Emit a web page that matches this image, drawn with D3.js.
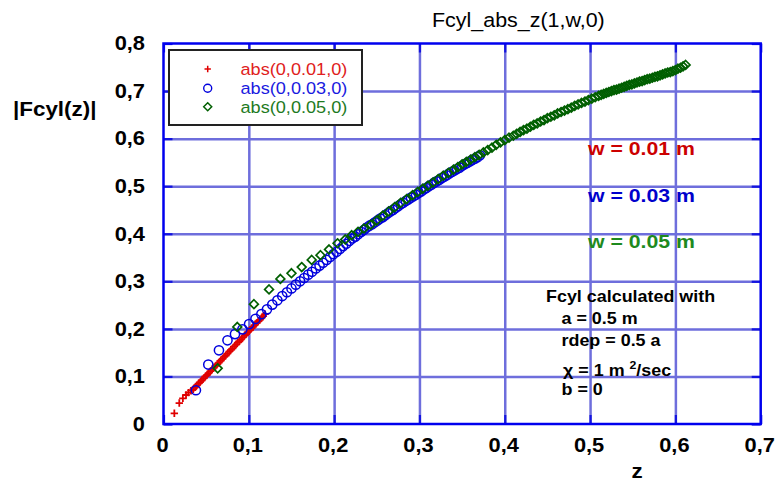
<!DOCTYPE html>
<html><head><meta charset="utf-8">
<script src="https://cdn.jsdelivr.net/npm/d3@7"></script>
<style>html,body{margin:0;padding:0;background:#fff;} svg{display:block;}</style>
</head><body><svg id="c" width="775" height="485"></svg>
<script>
// ---------- data ----------
const xTicks = [0, 0.1, 0.2, 0.3, 0.4, 0.5, 0.6, 0.7];
const xTickLabels = ["0", "0,1", "0,2", "0,3", "0,4", "0,5", "0,6", "0,7"];
const yTicks = [0, 0.1, 0.2, 0.3, 0.4, 0.5, 0.6, 0.7, 0.8];
const yTickLabels = ["0", "0,1", "0,2", "0,3", "0,4", "0,5", "0,6", "0,7", "0,8"];
const seriesNames = ["abs(0,0.01,0)", "abs(0,0.03,0)", "abs(0,0.05,0)"];
const wLabels = ["w = 0.01 m", "w = 0.03 m", "w = 0.05 m"];

// w = 0.01
const redZ = [0.0127,0.0185,0.0227,0.0264,0.0293,0.0322,0.0348,0.037,0.039,0.041,0.043,0.045,0.047,0.049,0.051,0.053,0.055,0.057,0.059,0.061,0.063,0.065,0.067,0.069,0.071,0.073,0.075,0.077,0.079,0.081,0.083,0.085,0.087,0.089,0.091,0.093,0.095,0.097,0.099,0.101,0.103,0.105,0.107,0.109,0.111,0.113,0.115,0.117,0.119];
const redY = [0.0225,0.044,0.054,0.061,0.066,0.070,0.073,0.077,0.081,0.085,0.088,0.092,0.096,0.100,0.103,0.107,0.111,0.115,0.118,0.122,0.126,0.129,0.133,0.137,0.141,0.144,0.148,0.152,0.156,0.159,0.163,0.167,0.171,0.174,0.178,0.182,0.186,0.189,0.193,0.197,0.201,0.204,0.208,0.212,0.216,0.219,0.223,0.227,0.231];

// w = 0.03
const blueZ = [0.038,0.0525,0.065,0.075,0.0838,0.0925,0.1003,0.1078,0.1147,0.1213,0.1275,0.1335,0.1392,0.1447,0.150,0.1551,0.1601,0.1649,0.1696,0.1741,0.1786,0.1829,0.1871,0.1912,0.1952,0.1991,0.203,0.2068,0.2105,0.2142,0.2178,0.2213,0.2248,0.2282,0.2316,0.2349,0.2382,0.2414,0.2446,0.2478,0.2509,0.254,0.257,0.260,0.263,0.266,0.269,0.272,0.275,0.278,0.281,0.284,0.287,0.290,0.293,0.296,0.299,0.302,0.305,0.308,0.311,0.314,0.317,0.320,0.323,0.326,0.329,0.332,0.335,0.338,0.341,0.344,0.347,0.350,0.353,0.356,0.359,0.362,0.365,0.368,0.371];
const blueY = [0.071,0.125,0.155,0.176,0.189,0.199,0.210,0.221,0.231,0.241,0.251,0.260,0.269,0.277,0.285,0.293,0.300,0.307,0.314,0.320,0.327,0.333,0.339,0.345,0.351,0.357,0.362,0.368,0.374,0.379,0.385,0.390,0.394,0.399,0.404,0.408,0.413,0.417,0.420,0.424,0.428,0.432,0.435,0.439,0.443,0.447,0.450,0.454,0.458,0.462,0.465,0.469,0.472,0.476,0.479,0.482,0.486,0.489,0.493,0.496,0.500,0.503,0.507,0.510,0.513,0.517,0.520,0.523,0.527,0.530,0.533,0.536,0.539,0.543,0.546,0.549,0.552,0.555,0.558,0.561,0.565];

// w = 0.05
const greenZ = [0.0635,0.0865,0.106,0.1237,0.137,0.150,0.162,0.1737,0.184,0.194,0.204,0.213,0.2206,0.228,0.235,0.243,0.250,0.257,0.264,0.271,0.278,0.285,0.292,0.298,0.304,0.310,0.316,0.322,0.328,0.334,0.340,0.345,0.350,0.355,0.360,0.365,0.370,0.375,0.380,0.385,0.390,0.395,0.400,0.405,0.410,0.414,0.418,0.422,0.426,0.430,0.434,0.438,0.442,0.446,0.450,0.454,0.458,0.462,0.466,0.470,0.474,0.478,0.482,0.486,0.490,0.494,0.498,0.502,0.506,0.510,0.513,0.516,0.519,0.522,0.525,0.528,0.531,0.534,0.537,0.540,0.543,0.546,0.549,0.552,0.555,0.558,0.561,0.564,0.567,0.570,0.573,0.576,0.579,0.582,0.585,0.588,0.591,0.594,0.597,0.600,0.603,0.606,0.609,0.612];
const greenY = [0.117,0.204,0.252,0.283,0.305,0.317,0.330,0.345,0.355,0.367,0.380,0.388,0.397,0.404,0.411,0.419,0.428,0.438,0.447,0.456,0.465,0.473,0.481,0.488,0.495,0.501,0.508,0.515,0.522,0.528,0.535,0.540,0.546,0.551,0.556,0.561,0.566,0.571,0.576,0.581,0.587,0.592,0.597,0.602,0.606,0.610,0.614,0.618,0.621,0.625,0.629,0.632,0.636,0.639,0.643,0.646,0.649,0.653,0.656,0.659,0.662,0.665,0.669,0.672,0.675,0.678,0.681,0.684,0.687,0.690,0.692,0.694,0.696,0.698,0.700,0.702,0.703,0.705,0.707,0.709,0.711,0.713,0.714,0.716,0.718,0.720,0.721,0.723,0.725,0.726,0.728,0.730,0.731,0.733,0.735,0.737,0.739,0.740,0.742,0.744,0.747,0.749,0.752,0.755];

// ---------- layout ----------
const L = 163.5, R = 760.7, T = 43.5, B = 424;
const SX = 1.12; // horizontal text stretch seen in the reference
const FONT = "'Liberation Sans', Arial, Helvetica, sans-serif";
const svg = d3.select("#c");
const x = d3.scaleLinear().domain([0, 0.7]).range([L, R]);
const y = d3.scaleLinear().domain([0, 0.8]).range([B, T]);

const red = "#e00000", blue = "#0000dd", green = "#005f00";

function txt(px, py, s, o = {}) {
  return svg.append("text")
    .attr("transform", `translate(${px},${py}) scale(${o.sx || SX},1)`)
    .attr("text-anchor", o.anchor || "start")
    .attr("font-family", FONT)
    .attr("font-size", o.size || 19.5)
    .attr("font-weight", o.bold === false ? "normal" : "bold")
    .attr("fill", o.fill || "#000")
    .text(s);
}

// grid
const gridCol = "#6e6edc";
svg.append("g").attr("transform", `translate(0,${B})`)
  .call(d3.axisBottom(x).tickValues(xTicks.slice(1, -1)).tickSize(-(B - T)).tickFormat(""))
  .call(g => g.select(".domain").remove())
  .selectAll("line").attr("stroke", gridCol).attr("stroke-width", 2.5);
svg.append("g").attr("transform", `translate(${L},0)`)
  .call(d3.axisLeft(y).tickValues(yTicks.slice(1, -1)).tickSize(-(R - L)).tickFormat(""))
  .call(g => g.select(".domain").remove())
  .selectAll("line").attr("stroke", gridCol).attr("stroke-width", 2.5);

// inward ticks on four sides
const tickCol = "#1414e0", tl = 9;
function ticks(axis, tr) {
  svg.append("g").attr("transform", tr)
    .call(axis.tickSize(-tl).tickFormat(""))
    .call(g => g.select(".domain").remove())
    .selectAll("line").attr("stroke", tickCol).attr("stroke-width", 2.2);
}
ticks(d3.axisBottom(x).tickValues(xTicks), `translate(0,${B})`);
ticks(d3.axisTop(x).tickValues(xTicks), `translate(0,${T})`);
ticks(d3.axisLeft(y).tickValues(yTicks), `translate(${L},0)`);
ticks(d3.axisRight(y).tickValues(yTicks), `translate(${R},0)`);

// frame
svg.append("rect").attr("x", L).attr("y", T).attr("width", R - L).attr("height", B - T)
  .attr("fill", "none").attr("stroke", "#0000ee").attr("stroke-width", 2.5);

// tick labels
xTicks.forEach((v, i) => txt(x(v) - 1, 452, xTickLabels[i], { anchor: "middle" }));
yTicks.forEach((v, i) => txt(145, y(v) + 6.8, yTickLabels[i], { anchor: "end" }));

// titles
txt(432, 27, "Fcyl_abs_z(1,w,0)", { bold: false, sx: 1.1 });
txt(13, 116, "|Fcyl(z)|", { size: 20 });
txt(637, 478, "z", { anchor: "middle", size: 20 });

// annotations
txt(588, 155, wLabels[0], { fill: "#cc0000", size: 18.5, sx: 1.15 });
txt(588, 201.5, wLabels[1], { fill: "#0000cc", size: 18.5, sx: 1.15 });
txt(588, 248, wLabels[2], { fill: "#1e8a1e", size: 18.5, sx: 1.15 });

txt(546, 302, "Fcyl calculated with", { size: 16 });
txt(561.5, 324, "a = 0.5 m", { size: 16 });
txt(561.5, 346, "rdep = 0.5 a", { size: 16 });
const chi = txt(563, 376, "", { size: 16 });
chi.append("tspan").text("\u03C7 = 1 m  ");
chi.append("tspan").attr("dy", -7).attr("font-size", 11).text("2");
chi.append("tspan").attr("dy", 7).text("/sec");
txt(561.5, 395, "b = 0", { size: 16 });

// marker helpers
function cross(g, cx, cy, col, a, w) {
  g.append("path").attr("d", `M${cx - a},${cy}H${cx + a}M${cx},${cy - a}V${cy + a}`)
    .attr("stroke", col).attr("stroke-width", w || 1.8).attr("fill", "none");
}
function circ(g, cx, cy, col, r, w) {
  g.append("circle").attr("cx", cx).attr("cy", cy).attr("r", r)
    .attr("stroke", col).attr("stroke-width", w || 1.5).attr("fill", "none");
}
function diam(g, cx, cy, col, a, w) {
  g.append("path").attr("d", `M${cx},${cy - a}L${cx + a},${cy}L${cx},${cy + a}L${cx - a},${cy}Z`)
    .attr("stroke", col).attr("stroke-width", w || 1.7).attr("fill", "none");
}

// data marks
const gR = svg.append("g"), gB = svg.append("g"), gG = svg.append("g");
redZ.forEach((z, i) => cross(gR, x(z), y(redY[i]), red, 3.7));
blueZ.forEach((z, i) => circ(gB, x(z), y(blueY[i]), blue, 4.6));
greenZ.forEach((z, i) => diam(gG, x(z), y(greenY[i]), green, 4.4));

// legend
const lg = svg.append("g");
lg.append("rect").attr("x", 169).attr("y", 50).attr("width", 193).attr("height", 75)
  .attr("fill", "#fff").attr("stroke", "#222").attr("stroke-width", 2);
const rows = [69, 88.3, 106.7];
cross(lg, 207.7, rows[0], red, 3.2, 1.5);
circ(lg, 207.7, rows[1], blue, 4, 1.4);
diam(lg, 207.7, rows[2], green, 4, 1.5);
const legCols = ["#e02020", "#1a1ae0", "#1e7a1e"];
seriesNames.forEach((s, i) => txt(240.5, rows[i] + 6, s, { bold: false, size: 16.5, fill: legCols[i], sx: 1.1 }));
</script>
</body></html>
